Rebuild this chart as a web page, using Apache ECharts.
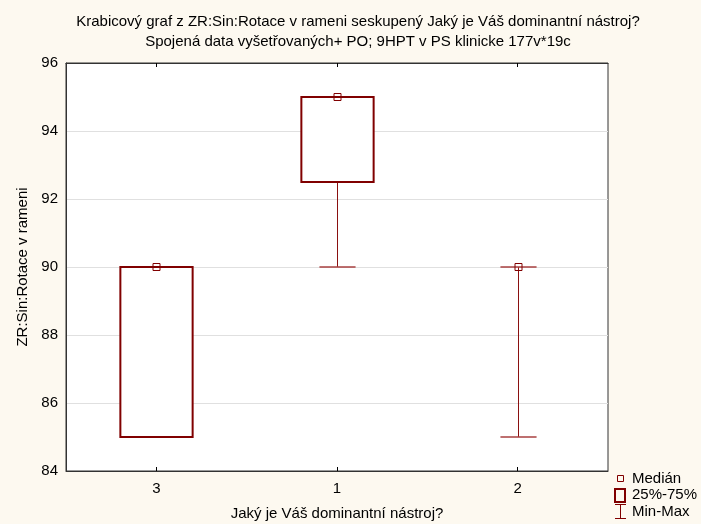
<!DOCTYPE html>
<html>
<head>
<meta charset="utf-8">
<script src="https://cdn.jsdelivr.net/npm/echarts@6/dist/echarts.min.js"></script>
<style>html,body{margin:0;padding:0;background:#fdf9f0;}#c{width:701px;height:524px;}</style>
</head>
<body>
<div id="c"></div>
<script>
var categories = ['3', '1', '2'];
var minValues = [85, 90, 85];
var q1Values = [85, 92.5, 90];
var medianValues = [90, 95, 90];
var q3Values = [90, 95, 90];
var maxValues = [90, 95, 90];
var yTicks = [84, 86, 88, 90, 92, 94, 96];

var titleLines = ['Krabicový graf z ZR:Sin:Rotace v rameni seskupený Jaký je Váš dominantní nástroj?',
                  'Spojená data vyšetřovaných+ PO; 9HPT v PS klinicke 177v*19c'];
var xName = 'Jaký je Váš dominantní nástroj?';
var yName = 'ZR:Sin:Rotace v rameni';
var legendLabels = ['Medián', '25%-75%', 'Min-Max'];

var FONT = 'Liberation Sans, Arial, sans-serif';
var FS = 15;
var RED = '#800000';

var rows = categories.map(function (c, i) {
  return [i, minValues[i], q1Values[i], medianValues[i], q3Values[i], maxValues[i]];
});

function renderItem(params, api) {
  var idx = api.value(0);
  var band = api.size([1, 0])[0];
  var pMin = api.coord([idx, api.value(1)]);
  var pQ1 = api.coord([idx, api.value(2)]);
  var pMed = api.coord([idx, api.value(3)]);
  var pQ3 = api.coord([idx, api.value(4)]);
  var pMax = api.coord([idx, api.value(5)]);
  var x = Math.round(pMin[0]) + 0.5;
  var bw = band * 0.4;
  var cw = band * 0.2;
  var children = [];
  var lineStyle = { stroke: '#8a1010', lineWidth: 1, fill: null };
  var capStyle = { stroke: '#a84040', lineWidth: 1.5, fill: null };
  children.push({ type: 'line', shape: { x1: x, y1: pMin[1], x2: x, y2: pQ1[1] }, style: lineStyle });
  children.push({ type: 'line', shape: { x1: x, y1: pQ3[1], x2: x, y2: pMax[1] }, style: lineStyle });
  children.push({ type: 'line', shape: { x1: x - cw / 2, y1: pMin[1], x2: x + cw / 2, y2: pMin[1] }, style: capStyle });
  children.push({ type: 'line', shape: { x1: x - cw / 2, y1: pMax[1], x2: x + cw / 2, y2: pMax[1] }, style: capStyle });
  if (Math.abs(pQ1[1] - pQ3[1]) > 0.5) {
    children.push({ type: 'rect', shape: { x: x - bw / 2, y: pQ3[1], width: bw, height: pQ1[1] - pQ3[1] },
      style: { stroke: RED, lineWidth: 2, fill: '#ffffff' } });
  }
  children.push({ type: 'rect', shape: { x: x - 3.5, y: pMed[1] - 3.5, width: 7, height: 7 },
    style: { stroke: RED, lineWidth: 1, fill: 'rgba(255,255,255,0)' } });
  return { type: 'group', children: children };
}

var chart = echarts.init(document.getElementById('c'), null, { renderer: 'canvas' });
var option = {
  backgroundColor: '#fdf9f0',
  animation: false,
  grid: { left: 66, right: 93, top: 63, bottom: 53, outerBoundsMode: 'none', containLabel: false,
    show: true, backgroundColor: '#ffffff', borderColor: '#333333', borderWidth: 1 },
  title: [
    { text: titleLines[0], left: 358, top: 14, padding: 0, textAlign: 'center',
      textStyle: { fontFamily: FONT, fontSize: FS, fontWeight: 'normal', color: '#000' } },
    { text: titleLines[1], left: 358, top: 34, padding: 0, textAlign: 'center',
      textStyle: { fontFamily: FONT, fontSize: FS, fontWeight: 'normal', color: '#000' } }
  ],
  xAxis: [
    { type: 'category', data: categories, position: 'bottom',
      name: xName, nameLocation: 'middle', nameGap: 35,
      nameTextStyle: { fontFamily: FONT, fontSize: FS, color: '#000' },
      axisLine: { show: true, lineStyle: { color: '#333' } },
      axisTick: { show: true, inside: true, alignWithLabel: true, length: 4, lineStyle: { color: '#000' } },
      axisLabel: { fontFamily: FONT, fontSize: FS, color: '#000', margin: 10 },
      splitLine: { show: false } },
    { type: 'category', data: categories, position: 'top',
      axisLine: { show: true, lineStyle: { color: '#333' } },
      axisTick: { show: true, inside: true, alignWithLabel: true, length: 4, lineStyle: { color: '#000' } },
      axisLabel: { show: false }, splitLine: { show: false } }
  ],
  yAxis: {
    type: 'value', min: yTicks[0], max: yTicks[yTicks.length - 1], interval: 2,
    name: yName, nameLocation: 'middle', nameGap: 36,
    nameTextStyle: { fontFamily: FONT, fontSize: FS, color: '#000' },
    axisLine: { show: true, lineStyle: { color: '#333' } },
    axisTick: { show: false },
    axisLabel: { fontFamily: FONT, fontSize: FS, color: '#000', margin: 8 },
    splitLine: { show: true, lineStyle: { color: '#e0e0e0', width: 1 } }
  },
  series: [{
    type: 'custom', renderItem: renderItem, data: rows, xAxisIndex: 0,
    encode: { x: 0, y: [1, 2, 3, 4, 5] }, z: 5
  }],
  graphic: [
    { type: 'rect', shape: { x: 617.5, y: 475.5, width: 6, height: 6 }, style: { stroke: RED, lineWidth: 1, fill: null } },
    { type: 'text', x: 632, y: 479, style: { text: legendLabels[0], font: FS + 'px ' + FONT, fill: '#000', textVerticalAlign: 'middle' } },
    { type: 'rect', shape: { x: 615, y: 489, width: 10, height: 13 }, style: { stroke: RED, lineWidth: 2, fill: null } },
    { type: 'text', x: 632, y: 495, style: { text: legendLabels[1], font: FS + 'px ' + FONT, fill: '#000', textVerticalAlign: 'middle' } },
    { type: 'line', shape: { x1: 620.5, y1: 504, x2: 620.5, y2: 519 }, style: { stroke: RED, lineWidth: 1 } },
    { type: 'line', shape: { x1: 615, y1: 504.5, x2: 626, y2: 504.5 }, style: { stroke: RED, lineWidth: 1 } },
    { type: 'line', shape: { x1: 615, y1: 518.5, x2: 626, y2: 518.5 }, style: { stroke: RED, lineWidth: 1 } },
    { type: 'text', x: 632, y: 512, style: { text: legendLabels[2], font: FS + 'px ' + FONT, fill: '#000', textVerticalAlign: 'middle' } }
  ]
};
chart.setOption(option);
</script>
</body>
</html>
